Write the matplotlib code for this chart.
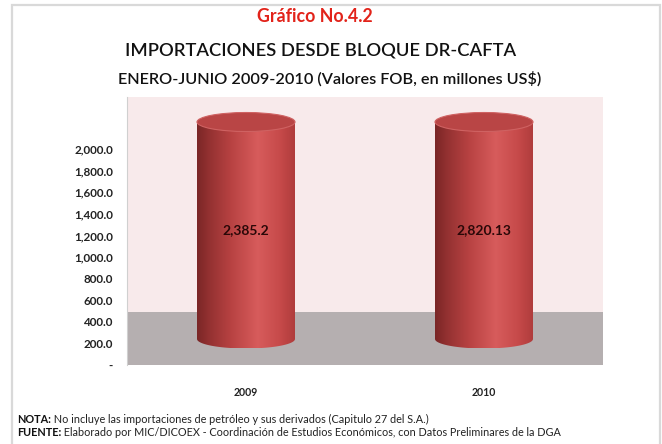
import numpy as np
import matplotlib
matplotlib.use("Agg")
import matplotlib.pyplot as plt
from matplotlib.patches import Polygon, Ellipse, Rectangle
from matplotlib.colors import LinearSegmentedColormap
from matplotlib.ticker import FixedLocator, FuncFormatter

# ---------------- data ----------------
years = ["2009", "2010"]
values = [2385.2, 2820.13]
value_labels = ["2,385.2", "2,820.13"]
tick_values = [0, 200, 400, 600, 800, 1000, 1200, 1400, 1600, 1800, 2000]
axis_cap = 2200  # 3-D axis maximum at which the cylinders are cut off

title1 = "Gráfico No.4.2"
title2 = "IMPORTACIONES DESDE BLOQUE DR-CAFTA"
title3 = "ENERO-JUNIO 2009-2010 (Valores FOB, en millones US$)"
note_head, note_body = "NOTA:", " No incluye las importaciones de petróleo y sus derivados (Capitulo 27 del S.A.)"
src_head, src_body = "FUENTE:", " Elaborado por MIC/DICOEX - Coordinación de Estudios Económicos, con Datos Preliminares de la DGA"

FONT = ['Lato', 'DejaVu Sans']
plt.rcParams['font.family'] = FONT

W, H = 662, 444
fig = plt.figure(figsize=(W / 100, H / 100), dpi=100)
fig.patch.set_facecolor('white')


def fx(px):
    return px / W


def fy(py):
    return 1 - py / H


# outer frame
fig.add_artist(Rectangle((fx(12), -0.05), fx(660) - fx(12), fy(5) + 0.05,
                         transform=fig.transFigure, fill=False,
                         edgecolor='#d9d9d9', lw=1.6))

wall_l, wall_r, wall_t, wall_b = 127, 603, 97, 365
y0_px, y2000_px = 365, 149
pos = [fx(wall_l), fy(wall_b), (wall_r - wall_l) / W, (wall_b - wall_t) / H]

ax = fig.add_axes(pos)
ax.set_facecolor('#f8eaeb')
ax.set_xlim(-0.5, 1.5)
ax.set_ylim(0, 2000 * (wall_b - wall_t) / (y0_px - y2000_px))
ax.add_patch(Rectangle((0, 0), 1, (wall_b - 312) / (wall_b - wall_t),
                       transform=ax.transAxes, facecolor='#b5afb0',
                       edgecolor='none', zorder=0.5))
for s in ['top', 'right', 'bottom']:
    ax.spines[s].set_visible(False)
ax.spines['left'].set_color('#d0d0d0')
ax.spines['left'].set_linewidth(0.8)
ax.yaxis.set_major_locator(FixedLocator(tick_values))
ax.yaxis.set_major_formatter(FuncFormatter(lambda v, p: "-" if v == 0 else f"{v:,.1f}"))
ax.set_xticks(range(len(years)))
ax.set_xticklabels(years)
ax.tick_params(axis='y', length=0, pad=10, labelsize=8.4, colors='#222222')
ax.tick_params(axis='x', length=0, pad=16, labelsize=7.6, colors='#222222')
for lab in ax.get_yticklabels() + ax.get_xticklabels():
    lab.set_fontweight('bold')

# cylinder overlay axes
ax2 = fig.add_axes(pos)
ax2.set_facecolor('none')
ax2.axis('off')
base_px, cap_px = 339, 122
scale = (base_px - cap_px) / axis_cap  # px per unit

cmap = LinearSegmentedColormap.from_list('cyl', [
    (0.0, '#7a2626'), (0.12, '#933131'), (0.35, '#b84242'),
    (0.62, '#d75c5c'), (0.85, '#c64a4a'), (1.0, '#b03c3c')])
grad = np.linspace(0, 1, 256).reshape(1, -1)

cyl_w = 98 / ((wall_r - wall_l) / 2)
b = 9.5 / scale
for i, (v, lab) in enumerate(zip(values, value_labels)):
    h = min(v, axis_cap)
    x0, x1 = i - cyl_w / 2, i + cyl_w / 2
    th = np.linspace(np.pi, 2 * np.pi, 60)
    pts = [(x0, h)] + list(zip(i + cyl_w / 2 * np.cos(th), b * np.sin(th))) + [(x1, h)]
    poly = Polygon(pts, closed=True, facecolor='none', edgecolor='none')
    ax2.add_patch(poly)
    im = ax2.imshow(grad, cmap=cmap, extent=[x0, x1, -b, h], aspect='auto',
                    interpolation='bilinear', zorder=2)
    im.set_clip_path(poly)
    ax2.add_patch(Ellipse((i, h), cyl_w, 2 * b, facecolor='#b94545',
                          edgecolor='#cf6262', lw=0.8, zorder=3))
    ax2.text(i, h / 2, lab, ha='center', va='center', fontsize=10,
             fontweight='bold', color='#2a0808', zorder=4)
ax2.set_xlim(-0.5, 1.5)
ax2.set_ylim(-(wall_b - base_px) / scale, (base_px - wall_t) / scale)

# titles
fig.text(fx(315), fy(17), title1, ha='center', va='center', fontsize=12.8,
         color='#e2231a', fontweight='bold')
fig.text(fx(321), fy(51), title2, ha='center', va='center', fontsize=13.2,
         color='#111111', fontweight='semibold')
fig.text(fx(330), fy(79), title3, ha='center', va='center', fontsize=11.7,
         color='#111111', fontweight='semibold')

# footnotes
renderer = fig.canvas.get_renderer()
for yy, head, body in [(419, note_head, note_body), (432, src_head, src_body)]:
    t = fig.text(fx(17), fy(yy), head, ha='left', va='center', fontsize=7.8,
                 fontweight='bold', color='#111111')
    bb = t.get_window_extent(renderer=renderer)
    fig.text(bb.x1 / W, fy(yy), body, ha='left', va='center', fontsize=7.8,
             color='#222222')

fig.savefig('out.png', dpi=100)
